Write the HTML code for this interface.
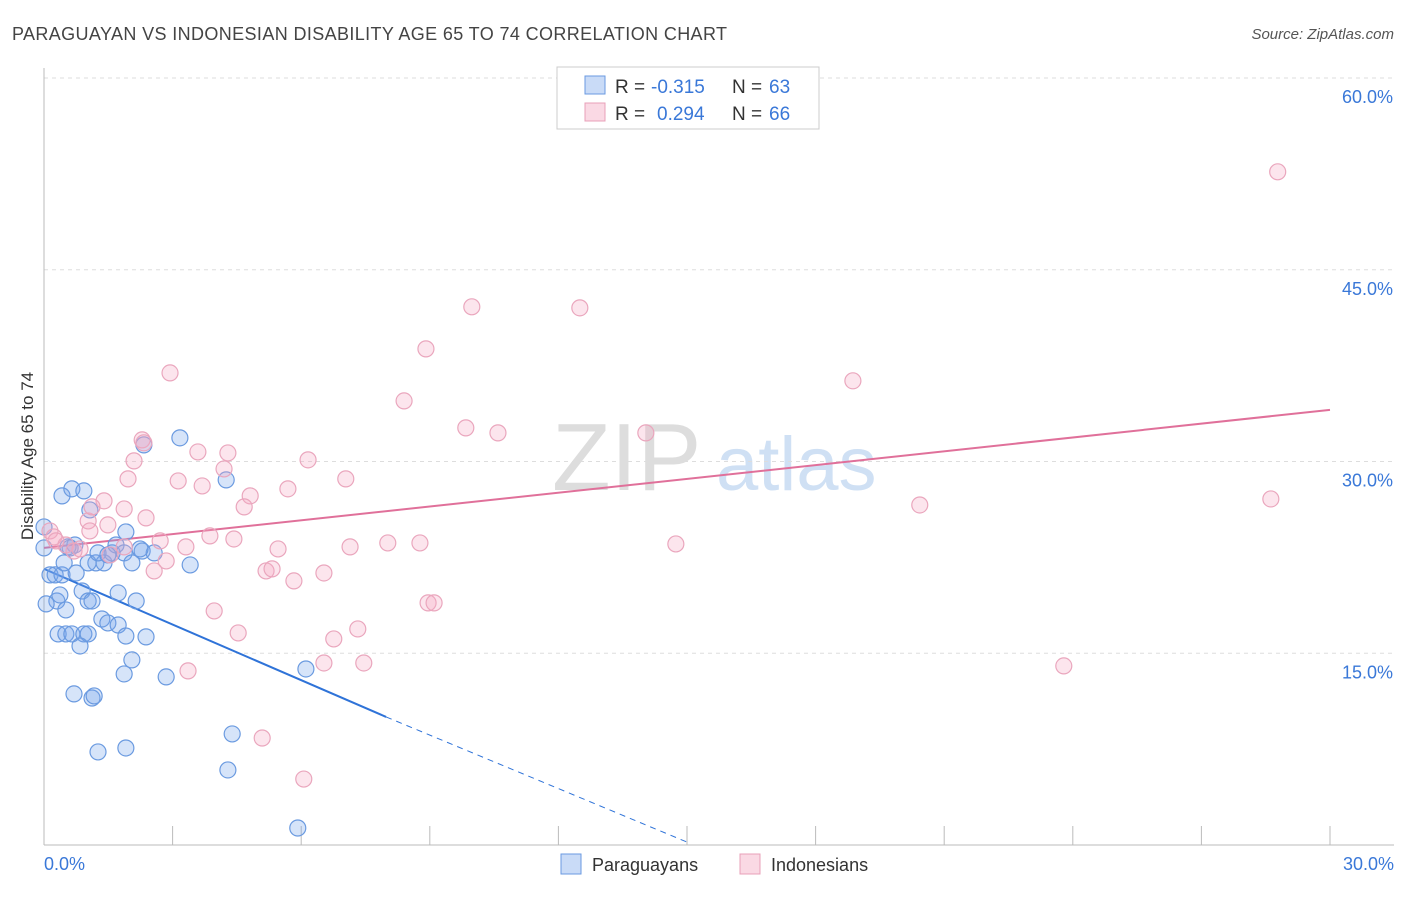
<!DOCTYPE html>
<html><head><meta charset="utf-8"><style>
body{margin:0;background:#fff;font-family:"Liberation Sans",sans-serif;}
svg text{font-family:"Liberation Sans",sans-serif;}
</style></head><body>
<svg id="chart" width="1406" height="892" xmlns="http://www.w3.org/2000/svg">
<text x="12" y="40" font-size="18" fill="#444" textLength="715">PARAGUAYAN VS INDONESIAN DISABILITY AGE 65 TO 74 CORRELATION CHART</text>
<text x="1394" y="39" font-size="15" fill="#555" font-style="italic" text-anchor="end">Source: ZipAtlas.com</text>
<g>
<text x="552" y="490" font-size="96" fill="#ddd" font-family="Liberation Serif,serif">ZIP</text>
<text x="716" y="490" font-size="76" fill="#cfe0f4">atlas</text>
</g>
<g id="grid"></g><g id="axes"></g><g id="lines"></g><g id="pts"></g>
<text transform="translate(33,456) rotate(-90)" font-size="17" fill="#333" text-anchor="middle">Disability Age 65 to 74</text>
<g>
<rect x="557" y="67" width="262" height="62" fill="#fff" stroke="#ccc"/>
<rect x="585" y="76" width="20" height="18" fill="rgba(120,165,235,0.4)" stroke="#6a9ae0"/>
<rect x="585" y="103" width="20" height="18" fill="rgba(245,170,195,0.45)" stroke="#e8a0b8"/>
<text x="615" y="93" font-size="19" fill="#333">R =</text>
<text x="651" y="93" font-size="19" fill="#3a78d8">-0.315</text>
<text x="732" y="93" font-size="19" fill="#333">N =</text>
<text x="769" y="93" font-size="19" fill="#3a78d8">63</text>
<text x="615" y="120" font-size="19" fill="#333">R =</text>
<text x="657" y="120" font-size="19" fill="#3a78d8">0.294</text>
<text x="732" y="120" font-size="19" fill="#333">N =</text>
<text x="769" y="120" font-size="19" fill="#3a78d8">66</text>
</g>
<g>
<rect x="561" y="854" width="20" height="20" fill="rgba(120,165,235,0.4)" stroke="#6a9ae0"/>
<text x="592" y="871" font-size="18" fill="#333">Paraguayans</text>
<rect x="740" y="854" width="20" height="20" fill="rgba(245,170,195,0.45)" stroke="#e8a0b8"/>
<text x="771" y="871" font-size="18" fill="#333">Indonesians</text>
</g>
</svg>
<script>
const yTicks=[15,30,45,60];
const yTickLabels=["15.0%","30.0%","45.0%","60.0%"];
const xTickVals=[0,3,6,9,12,15,18,21,24,27,30];
const xEndLabels=["0.0%","30.0%"];
const blueX=[0,0,0.14,0.26,0.42,0.30,0.37,0.51,0.47,0.72,0.61,0.42,0.65,0.93,1.07,0.75,0.89,1.03,1.12,1.21,1.03,1.40,0.33,0.51,0.65,0.93,1.03,0.84,1.35,1.49,1.73,1.73,1.59,1.68,1.91,1.87,2.05,2.15,1.91,2.38,2.05,1.87,2.85,2.33,2.29,2.57,3.17,3.41,4.25,0.70,1.12,1.17,1.26,1.91,4.39,4.29,5.92,6.11,2.24,1.26,1.49,0.05,0.56];
const blueY=[24.88,23.24,21.13,21.13,21.13,19.09,19.56,18.39,22.07,23.47,23.24,27.31,27.86,27.70,26.21,21.28,19.87,19.09,19.09,22.07,22.07,22.07,16.51,16.51,16.51,16.51,16.51,15.57,17.68,17.37,17.21,19.72,22.85,23.47,24.49,22.85,22.07,19.09,16.35,16.28,14.48,13.38,13.15,31.30,23.00,22.85,31.85,21.91,28.56,11.82,11.50,11.66,7.28,7.59,8.69,5.87,1.33,13.77,23.16,22.85,22.69,18.86,23.32];
const pinkX=[28.78,9.98,12.50,8.91,18.87,2.94,8.40,9.84,10.59,14.04,2.29,2.33,3.59,4.29,2.10,6.16,4.20,1.96,3.13,3.69,7.04,5.69,4.81,1.40,1.03,1.12,1.87,2.38,4.67,28.62,20.43,0.14,0.23,1.07,1.49,0.51,0.70,0.84,0.28,3.87,4.43,2.71,3.31,1.54,1.87,2.85,2.57,5.46,7.14,8.02,8.77,14.74,5.18,5.32,5.83,6.53,3.97,4.53,6.76,7.32,8.96,9.10,3.36,6.53,7.46,5.09,6.06,23.79];
const pinkY=[52.66,42.10,42.02,38.81,36.31,36.93,34.74,32.63,32.24,32.24,31.69,31.46,30.75,30.67,30.05,30.13,29.42,28.64,28.48,28.09,28.64,27.86,27.31,26.92,25.35,26.45,26.29,25.59,26.45,27.07,26.60,24.57,24.10,24.57,25.04,23.47,23.00,23.16,23.79,24.18,23.94,23.79,23.32,22.69,23.32,22.22,21.44,23.16,23.32,23.63,23.63,23.55,21.44,21.60,20.66,21.28,18.31,16.59,16.12,16.90,18.94,18.94,13.62,14.24,14.24,8.37,5.16,14.01];
const blueTrendX=[0,7.98,15];
const blueTrendY=[21.60,10.02,0.23];
const pinkTrendX=[0,30];
const pinkTrendY=[23.24,34.04];

const X0=44,X1=1330,Y0=845,Ytop=78;
const sx=v=>X0+(X1-X0)*v/30;
const sy=v=>Y0-(Y0-Ytop)*v/60;
const NS="http://www.w3.org/2000/svg";
function mk(tag,attrs,parent){const e=document.createElementNS(NS,tag);for(const k in attrs)e.setAttribute(k,attrs[k]);document.getElementById(parent).appendChild(e);return e;}

yTicks.forEach((t,i)=>{
  const g=mk('line',{x1:X0,x2:1394,y1:sy(t),y2:sy(t),stroke:'#ddd','stroke-dasharray':'4,4'},'grid');
  
  
  const tx=mk('text',{x:1393,y:sy(t)+25,'font-size':18,fill:'#3a78d8','text-anchor':'end'},'axes');
  tx.textContent=yTickLabels[i];
  
  
});
const ax=mk('line',{x1:X0,x2:X0,y1:68,y2:Y0,stroke:'#bbb'},'axes');


const bx=mk('line',{x1:X0,x2:1394,y1:Y0,y2:Y0,stroke:'#bbb'},'axes');


xTickVals.forEach(t=>{
  const l=mk('line',{x1:sx(t),x2:sx(t),y1:826,y2:Y0,stroke:'#bbb'},'axes');
  
  
});
const xl0=mk('text',{x:44,y:870,'font-size':18,fill:'#3a78d8'},'axes');
xl0.textContent=xEndLabels[0];


const xl1=mk('text',{x:1394,y:870,'font-size':18,fill:'#3a78d8','text-anchor':'end'},'axes');
xl1.textContent=xEndLabels[1];



blueX.forEach((v,i)=>{
  const c=mk('circle',{cx:sx(v),cy:sy(blueY[i]),r:8,fill:'rgba(120,165,235,0.3)',stroke:'#6a9ae0','stroke-width':1.2},'pts');
  
  
});
pinkX.forEach((v,i)=>{
  const c=mk('circle',{cx:sx(v),cy:sy(pinkY[i]),r:8,fill:'rgba(245,170,195,0.3)',stroke:'#eaa6bd','stroke-width':1.2},'pts');
  
  
});
const bl=mk('line',{x1:sx(blueTrendX[0]),y1:sy(blueTrendY[0]),x2:sx(blueTrendX[1]),y2:sy(blueTrendY[1]),stroke:'#2f73d8','stroke-width':2},'lines');


const bd=mk('line',{x1:sx(blueTrendX[1]),y1:sy(blueTrendY[1]),x2:sx(blueTrendX[2]),y2:sy(blueTrendY[2]),stroke:'#2f73d8','stroke-width':1,'stroke-dasharray':'6,5'},'lines');


const pl=mk('line',{x1:sx(pinkTrendX[0]),y1:sy(pinkTrendY[0]),x2:sx(pinkTrendX[1]),y2:sy(pinkTrendY[1]),stroke:'#e0709a','stroke-width':2},'lines');


</script>
</body></html>
